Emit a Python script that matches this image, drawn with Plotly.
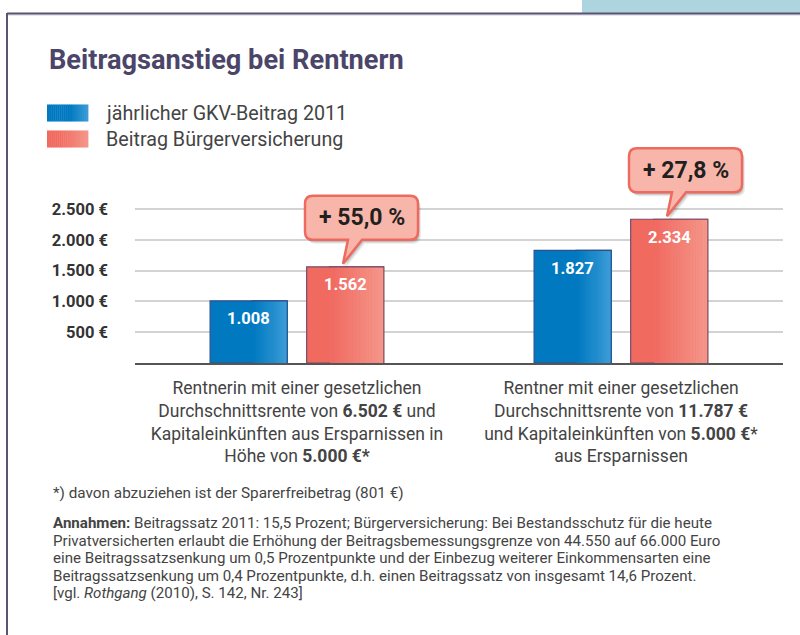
import plotly.graph_objects as go

# ---- data -------------------------------------------------------------
categories = [
    "Rentnerin mit einer gesetzlichen<br>Durchschnittsrente von <b>6.502 €</b> und<br>"
    "Kapitaleinkünften aus Ersparnissen in<br>Höhe von <b>5.000 €*</b>",
    "Rentner mit einer gesetzlichen<br>Durchschnittsrente von <b>11.787 €</b><br>"
    "und Kapitaleinkünften von <b>5.000 €</b>*<br>aus Ersparnissen",
]
gkv_2011 = [1008, 1827]
buergerversicherung = [1562, 2334]
increase_labels = ["+ 55,0 %", "+ 27,8 %"]
y_ticks = [500, 1000, 1500, 2000, 2500]
y_ticktext = ["500 €", "1.000 €", "1.500 €", "2.000 €", "2.500 €"]
series_names = ["jährlicher GKV-Beitrag 2011", "Beitrag Bürgerversicherung"]

title = "Beitragsanstieg bei Rentnern"
footnote = "*) davon abzuziehen ist der Sparerfreibetrag (801 €)"
annahmen_lines = [
    "<b>Annahmen:</b> Beitragssatz 2011: 15,5 Prozent; Bürgerversicherung: Bei Bestandsschutz für die heute",
    "Privatversicherten erlaubt die Erhöhung der Beitragsbemessungsgrenze von 44.550 auf 66.000 Euro",
    "eine Beitragssatzsenkung um 0,5 Prozentpunkte und der Einbezug weiterer Einkommensarten eine",
    "Beitragssatzsenkung um 0,4 Prozentpunkte, d.h. einen Beitragssatz von insgesamt 14,6 Prozent.",
    "[vgl. <i>Rothgang</i> (2010), S. 142, Nr. 243]",
]

# colours: (left, right, where the fade starts)
BLUE = ("#0079C1", "#3D9DD7", 0.55)
RED = ("#F06A60", "#F5978B", 0.30)
BLUE_EDGE = "#2D4F8E"
RED_EDGE = "#7A4A68"
FONT = "Roboto"
W, H = 800, 635

PLOT_L, PLOT_R = 135, 783
BARGAP, GROUPGAP = 0.404, 0.2
cat_px = (PLOT_R - PLOT_L) / len(categories)
slot_px = cat_px * (1 - BARGAP) / 2
bar_px = slot_px * (1 - GROUPGAP)


def de(v):
    return f"{v:,}".replace(",", ".")


def px_x(p):
    return p / W


def px_y(p):
    return 1 - p / H


def mix(c1, c2, t):
    a = [int(c1[i:i + 2], 16) for i in (1, 3, 5)]
    b = [int(c2[i:i + 2], 16) for i in (1, 3, 5)]
    return "#" + "".join(f"{round(x + (y - x) * t):02x}" for x, y in zip(a, b))


def fade(col, t):
    left, right, start = col
    if t <= start:
        return left
    return mix(left, right, (t - start) / (1 - start))


fig = go.Figure()
fig.add_trace(go.Bar(x=categories, y=gkv_2011, name=series_names[0],
                     marker=dict(color=BLUE[0], line=dict(color=BLUE_EDGE, width=1.2))))
fig.add_trace(go.Bar(x=categories, y=buergerversicherung, name=series_names[1],
                     marker=dict(color=RED[0], line=dict(color=RED_EDGE, width=1.2))))

annotations = []
shapes = []

# gradient sheen on the bars
n = 36
for cat, v1, v2 in zip(categories, gkv_2011, buergerversicherung):
    for v, dx, col, edge in ((v1, -slot_px / 2, BLUE, BLUE_EDGE), (v2, slot_px / 2, RED, RED_EDGE)):
        left = dx - bar_px / 2 + 0.8
        right = dx + bar_px / 2 - 0.8
        x_start = left + col[2] * (right - left)
        step = (right - x_start) / n
        for k in range(n):
            x0 = x_start + k * step
            t = (x0 + step / 2 - left) / (right - left)
            shapes.append(dict(type="rect", xref="x", yref="y", xsizemode="pixel", xanchor=cat,
                               x0=x0, x1=min(x0 + step + 0.4, right), y0=0, y1=v,
                               fillcolor=fade(col, t), line=dict(width=0)))
        shapes.append(dict(type="line", xref="x", yref="y", xsizemode="pixel", xanchor=cat,
                           x0=x_start - 1, x1=dx + bar_px / 2, y0=v, y1=v,
                           line=dict(color=edge, width=1.2)))

# value labels inside the bars
for cat, v1, v2 in zip(categories, gkv_2011, buergerversicherung):
    for v, dx in ((v1, -slot_px / 2), (v2, slot_px / 2)):
        annotations.append(dict(x=cat, y=v, xref="x", yref="y", text="<b>" + de(v) + "</b>",
                                showarrow=False, xshift=dx, yshift=-18, yanchor="middle",
                                font=dict(family=FONT, size=16.5, color="white")))


# speech bubbles above the red bars (pixel path, y up)
def bubble(dx, l=-38, r=75, b=24, t=68, rad=8, sx=0, sy=0):
    p = lambda x, y: f"{x + dx + sx},{y + sy}"
    return (f"M{p(0, 0)} L{p(19, b)} L{p(r - rad, b)} Q{p(r, b)} {p(r, b + rad)} "
            f"L{p(r, t - rad)} Q{p(r, t)} {p(r - rad, t)} L{p(l + rad, t)} Q{p(l, t)} {p(l, t - rad)} "
            f"L{p(l, b + rad)} Q{p(l, b)} {p(l + rad, b)} L{p(5, b)} Z")


for cat, v, lab in zip(categories, buergerversicherung, increase_labels):
    tip_dx = 46
    for sx, sy, a in ((3, -4, 0.07), (2, -3, 0.10), (1, -2, 0.12)):
        shapes.append(dict(type="path", xref="x", yref="y", xsizemode="pixel", ysizemode="pixel",
                           xanchor=cat, yanchor=v, path=bubble(tip_dx, sx=sx, sy=sy + 3),
                           fillcolor=f"rgba(0,0,0,{a})", line=dict(width=0)))
    shapes.append(dict(type="path", xref="x", yref="y", xsizemode="pixel", ysizemode="pixel",
                       xanchor=cat, yanchor=v, path=bubble(tip_dx, sy=3),
                       fillcolor="#F8B6AA", line=dict(color="#EE6A5F", width=2.5)))
    annotations.append(dict(x=cat, y=v, xref="x", yref="y", text="<b>" + lab + "</b>",
                            showarrow=False, xshift=tip_dx + 18.5, yshift=3 + 46, yanchor="middle",
                            font=dict(family=FONT, size=23, color="#231F20")))

# frame
shapes.append(dict(type="rect", xref="paper", yref="paper", x0=px_x(582), x1=1, y0=px_y(13), y1=1,
                   fillcolor="#AED4DF", line=dict(width=0), layer="below"))
shapes.append(dict(type="line", xref="paper", yref="paper", x0=px_x(7), x1=1, y0=px_y(15), y1=px_y(15),
                   line=dict(color="#CFCBDD", width=1)))
shapes.append(dict(type="line", xref="paper", yref="paper", x0=px_x(7), x1=1, y0=px_y(13.5), y1=px_y(13.5),
                   line=dict(color="#5A5470", width=2)))
shapes.append(dict(type="line", xref="paper", yref="paper", x0=px_x(7), x1=px_x(7), y0=0, y1=px_y(13),
                   line=dict(color="#5A5470", width=2)))

# title
annotations.append(dict(x=px_x(47), y=px_y(60), xref="paper", yref="paper", text="<b>" + title + "</b>",
                        showarrow=False, xanchor="left", yanchor="middle",
                        font=dict(family=FONT, size=27.2, color="#4B4569")))

# legend
for i, (name, col) in enumerate(zip(series_names, [BLUE, RED])):
    yc = 113 + i * 26
    n_sw = 20
    for k in range(n_sw):
        x0 = 47 + k * 41 / n_sw
        shapes.append(dict(type="rect", xref="paper", yref="paper", x0=px_x(x0), x1=px_x(x0 + 41 / n_sw + 0.4),
                           y0=px_y(yc - 8.5), y1=px_y(yc + 8.5),
                           fillcolor=fade(col, (k + 0.5) / n_sw), line=dict(width=0)))
    annotations.append(dict(x=px_x(104), y=px_y(yc), xref="paper", yref="paper", text=name,
                            showarrow=False, xanchor="left", yanchor="middle",
                            font=dict(family=FONT, size=19.7, color="#444444")))

# footnotes
annotations.append(dict(x=px_x(51), y=px_y(493), xref="paper", yref="paper", text=footnote,
                        showarrow=False, xanchor="left", yanchor="middle",
                        font=dict(family=FONT, size=15.3, color="#444444")))
for i, line in enumerate(annahmen_lines):
    annotations.append(dict(x=px_x(51), y=px_y(523 + i * 17.5), xref="paper", yref="paper", text=line,
                            showarrow=False, xanchor="left", yanchor="middle", align="left",
                            font=dict(family=FONT, size=15.1, color="#444444")))

fig.update_layout(
    width=W, height=H, margin=dict(l=0, r=0, t=0, b=0),
    paper_bgcolor="white", plot_bgcolor="white", showlegend=False,
    barmode="group", bargap=BARGAP, bargroupgap=GROUPGAP,
    font=dict(family=FONT, color="#444444"),
    shapes=shapes, annotations=annotations,
)
fig.update_xaxes(domain=[px_x(PLOT_L), px_x(PLOT_R)], showline=True, linecolor="#555555", linewidth=2,
                 showgrid=False, ticks="", ticklabelstandoff=8,
                 tickfont=dict(family=FONT, size=17.5, color="#444444"))
fig.update_yaxes(domain=[px_y(363), px_y(116.6)], range=[0, 4000], tickvals=y_ticks, ticktext=y_ticktext,
                 showgrid=True, gridcolor="#D3D3D3", gridwidth=1.5, zeroline=False, ticks="",
                 ticklabelstandoff=26, tickfont=dict(family=FONT, size=16.5, color="#333333", weight="bold"))

fig.write_html("out.html", config={"displayModeBar": False},
               post_script="document.body.style.margin='0';document.body.style.overflow='hidden';")
